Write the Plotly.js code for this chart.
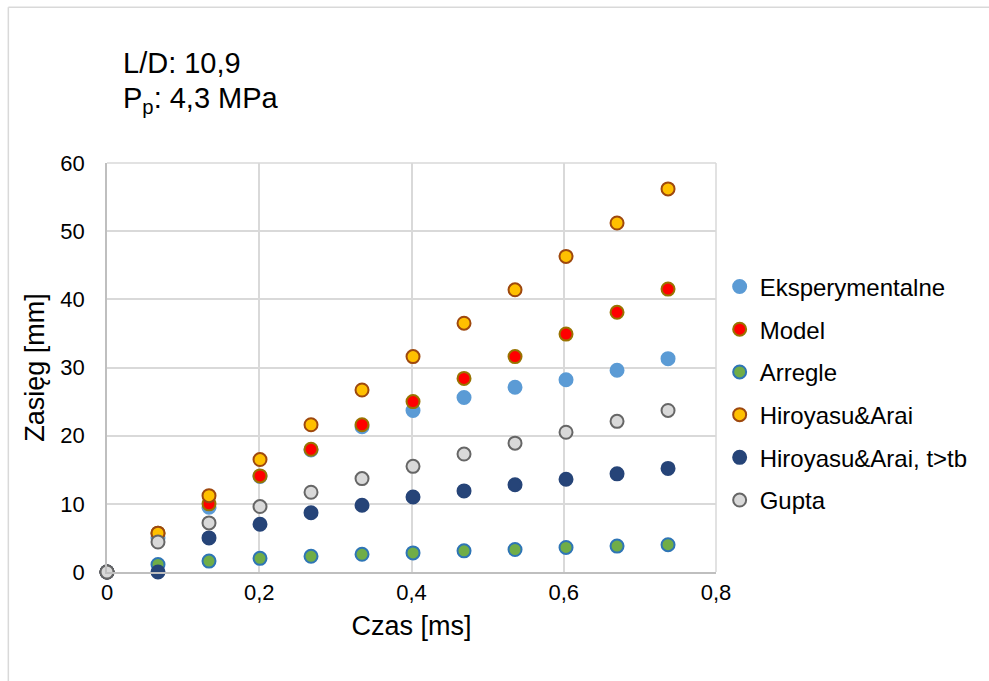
<!DOCTYPE html>
<html>
<head>
<meta charset="utf-8">
<script src="https://cdn.plot.ly/plotly-3.0.1.min.js"></script>
<style>
html,body{margin:0;padding:0;background:#fff;}
#chart{width:989px;height:681px;}
</style>
</head>
<body>
<div id="chart"></div>
<script>
// Time [ms]
const czas = [0, 0.067, 0.134, 0.201, 0.268, 0.335, 0.402, 0.469, 0.536, 0.603, 0.670, 0.737];

const seriesNames = ["Eksperymentalne", "Model", "Arregle", "Hiroyasu&Arai", "Hiroyasu&Arai, t>tb", "Gupta"];

const eksperymentalne = [0, 5.0, 9.5, 14.0, 17.9, 21.3, 23.7, 25.6, 27.1, 28.2, 29.6, 31.3];
const model           = [0, 5.7, 10.0, 14.1, 18.0, 21.6, 25.0, 28.4, 31.6, 34.9, 38.1, 41.5];
const arregle         = [0, 1.1, 1.6, 2.0, 2.3, 2.6, 2.8, 3.1, 3.3, 3.6, 3.8, 4.0];
const hiroyasu        = [0, 5.7, 11.2, 16.5, 21.6, 26.7, 31.6, 36.5, 41.4, 46.3, 51.2, 56.2];
const hiroyasuTb      = [0, 0, 5.0, 7.0, 8.7, 9.8, 11.0, 11.9, 12.8, 13.6, 14.4, 15.2];
const gupta           = [0, 4.4, 7.2, 9.6, 11.7, 13.7, 15.5, 17.3, 18.9, 20.5, 22.1, 23.7];

const xTickVals = [0, 0.2, 0.4, 0.6, 0.8];
const xTickText = ["0", "0,2", "0,4", "0,6", "0,8"];
const yTickVals = [0, 10, 20, 30, 40, 50, 60];

const allValues = [eksperymentalne, model, arregle, hiroyasu, hiroyasuTb, gupta];
const fills   = ["#5B9BD5", "#FF0000", "#70AD47", "#FFC000", "#264478", "#D9D9D9"];
const borders = ["#5B9BD5", "#997300", "#2E75B6", "#9E480E", "#264478", "#666666"];

const traces = allValues.map((vals, i) => ({
  type: "scatter",
  mode: "markers",
  name: seriesNames[i],
  legendgroup: "g" + i,
  x: czas,
  y: vals,
  cliponaxis: false,
  marker: {size: 13, color: fills[i], line: {color: borders[i], width: 2}},
  hoverinfo: "x+y+name"
}));

const gridColor = "#D9D9D9";
const axisColor = "#BFBFBF";
const fontFam = "Liberation Sans, Arial, sans-serif";

const layout = {
  width: 989, height: 681,
  margin: {l: 106.7, r: 273.3, t: 163.3, b: 108.7},
  paper_bgcolor: "#fff", plot_bgcolor: "#fff",
  font: {family: fontFam, color: "#000"},
  showlegend: true,
  legend: {
    x: 1.006, xanchor: "left", y: 0.752, yanchor: "top",
    font: {size: 24, family: fontFam, color: "#000"},
    traceorder: "grouped", tracegroupgap: 8.5,
    bgcolor: "rgba(0,0,0,0)"
  },
  xaxis: {
    range: [0, 0.8], tickvals: xTickVals, ticktext: xTickText,
    showgrid: true, gridcolor: gridColor, gridwidth: 1.5,
    showline: true, linecolor: axisColor, linewidth: 1.5,
    zeroline: false,
    ticks: "", ticklabelstandoff: 0,
    tickfont: {size: 22, family: fontFam, color: "#000"},
    title: {text: "Czas [ms]", font: {size: 27, family: fontFam, color: "#000"}, standoff: 12}
  },
  yaxis: {
    range: [0, 60], tickvals: yTickVals,
    showgrid: true, gridcolor: gridColor, gridwidth: 1.5,
    showline: true, linecolor: axisColor, linewidth: 1.5,
    zeroline: false,
    ticks: "", ticklabelstandoff: 16,
    tickfont: {size: 22, family: fontFam, color: "#000"},
    title: {text: "Zasięg [mm]", font: {size: 27, family: fontFam, color: "#000"}, standoff: 8}
  },
  shapes: [
    // plot area top and right edges
    {type: "line", xref: "paper", yref: "paper", x0: 0, x1: 1, y0: 1, y1: 1, line: {color: gridColor, width: 1.5}, layer: "below"},
    {type: "line", xref: "paper", yref: "paper", x0: 1, x1: 1, y0: 0, y1: 1, line: {color: gridColor, width: 1.5}, layer: "below"},
    // outer chart frame
    {type: "line", xref: "paper", yref: "paper", x0: -0.162, x1: 1.5, y0: 1.381, y1: 1.381, line: {color: gridColor, width: 1.5}},
    {type: "line", xref: "paper", yref: "paper", x0: -0.162, x1: -0.162, y0: 1.381, y1: -0.3, line: {color: gridColor, width: 1.5}}
  ],
  annotations: [
    {xref: "paper", yref: "paper", x: 0.0235, y: 1.245, xanchor: "left", yanchor: "middle", showarrow: false,
     text: "L/D: 10,9", font: {size: 29, family: fontFam, color: "#000"}},
    {xref: "paper", yref: "paper", x: 0.0235, y: 1.155, xanchor: "left", yanchor: "middle", showarrow: false,
     text: "P<sub>p</sub>: 4,3 MPa", font: {size: 29, family: fontFam, color: "#000"}}
  ]
};

Plotly.newPlot("chart", traces, layout, {displayModeBar: false});
</script>
</body>
</html>
